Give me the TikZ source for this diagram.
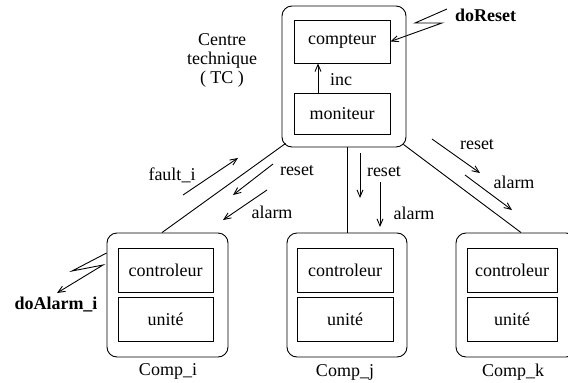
\documentclass[tikz,border=0pt]{standalone}
\usepackage{fontspec}
\setmainfont{Liberation Serif}
\usetikzlibrary{arrows.meta,calc}
\begin{document}
\begin{tikzpicture}[x=1pt,y=-1pt,line width=0.9pt,
  every node/.style={font=\fontsize{18}{19}\selectfont},
  outerbox/.style={draw,rounded corners=10pt,inner sep=0pt,minimum width=#1,minimum height=124pt},
  innerbox/.style={draw,inner sep=0pt,minimum width=#1,minimum height=44pt},
  msg/.style={-{Straight Barb[length=7pt,width=6pt]}},
  lbl/.style={inner sep=0pt,anchor=center}]
\clip (0,0) rectangle (568,383);
% Centre technique
\node[draw,rounded corners=10pt,inner sep=0pt,minimum width=124pt,minimum height=141pt] (TC) at (344,76.5) {};
\node[draw,inner sep=0pt,minimum width=96pt,minimum height=43pt] (compteur) at (342,41.5) {compteur};
\node[draw,inner sep=0pt,minimum width=96pt,minimum height=41pt] (moniteur) at (342,113.5) {moniteur};
\node[lbl,align=center,font=\fontsize{18}{19}\selectfont] (tclbl) at (222,60) {Centre\\technique\\( TC )};
\node[lbl] (inclbl) at (341,80) {inc};
\draw[msg] ($(moniteur.north)+(-24,0)$) -- ($(compteur.south)+(-24,0)$);
% doReset
\node[lbl,font=\fontsize{18}{19}\selectfont\bfseries] (doreset) at (485.5,15) {doReset};
\coordinate (rz1) at (447,9);
\draw[msg] (rz1) -- (415,23) -- (442,23) -- (compteur.east);
% components
\node[outerbox=121pt] (Compi) at (167.5,295) {};
\node[innerbox=95pt] (ctli) at (165.5,270) {controleur};
\node[innerbox=95pt] (uni) at (165.5,319) {unité};
\node[lbl] (ci) at (168,371) {Comp\_i};
\node[outerbox=120pt] (Compj) at (347,295) {};
\node[innerbox=96pt] (ctlj) at (345,270) {controleur};
\node[innerbox=96pt] (unj) at (345,319) {unité};
\node[lbl] (cj) at (345,372) {Comp\_j};
\node[outerbox=120pt] (Compk) at (516,295) {};
\node[innerbox=90pt] (ctlk) at (512,270) {controleur};
\node[innerbox=90pt] (unk) at (512,319) {unité};
\node[lbl] (ck) at (513,372) {Comp\_k};
% links
\draw ($(TC.south west)+(4,-4)$) -- ($(Compi.north)+(-5.5,0)$);
\draw (Compj.north) -- (Compj.north |- TC.south);
\draw ($(TC.south east)+(-3,-3)$) -- ($(Compk.north)+(5,0)$);
% messages i
\coordinate (fi1) at (183,195); \coordinate (fi2) at (238,158);
\draw[msg] (fi1) -- (fi2);
\node[lbl] (filbl) at (172,175) {fault\_i};
\coordinate (ri1) at (273,164); \coordinate (ri2) at (233,195);
\draw[msg] (ri1) -- (ri2);
\node[lbl] (rilbl) at (297,171) {reset};
\coordinate (ai1) at (267,190); \coordinate (ai2) at (223,220);
\draw[msg] (ai1) -- (ai2);
\node[lbl] (ailbl) at (272,212) {alarm};
% messages j
\coordinate (rj1) at (360,153); \coordinate (rj2) at (360,198);
\draw[msg] (rj1) -- (rj2);
\node[lbl] (rjlbl) at (384,172) {reset};
\coordinate (aj1) at (380,182); \coordinate (aj2) at (380,227);
\draw[msg] (aj1) -- (aj2);
\node[lbl] (ajlbl) at (414,213) {alarm};
% messages k
\coordinate (rk1) at (432,139); \coordinate (rk2) at (480,173);
\draw[msg] (rk1) -- (rk2);
\node[lbl] (rklbl) at (477,145) {reset};
\coordinate (ak1) at (465,175); \coordinate (ak2) at (512,210);
\draw[msg] (ak1) -- (ak2);
\node[lbl] (aklbl) at (514,182) {alarm};
% doAlarm
\coordinate (da0) at (Compi.west |- 0,253);
\coordinate (da3) at (57,293);
\draw[msg] (da0) -- (72,271) -- (103,265) -- (da3);
\node[lbl,font=\fontsize{18}{19}\selectfont\bfseries] (doalarm) at (56,305) {doAlarm\_i};
\end{tikzpicture}
\end{document}
